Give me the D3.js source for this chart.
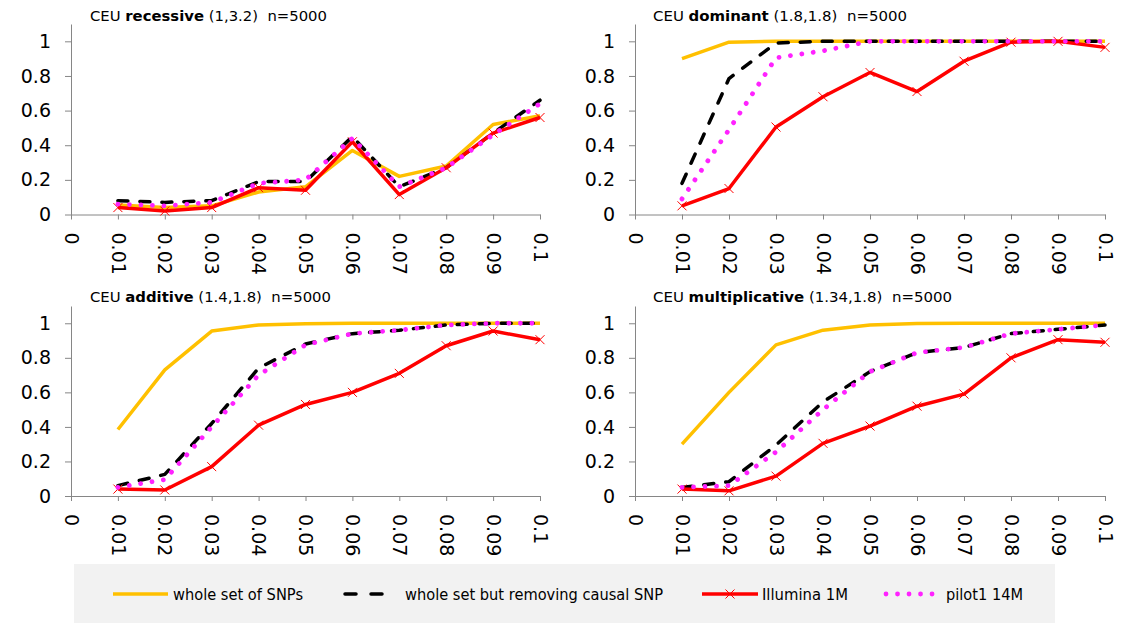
<!DOCTYPE html>
<html>
<head>
<meta charset="utf-8">
<script src="https://cdn.jsdelivr.net/npm/d3@7"></script>
<style>
    body { margin: 0; background: #fff; }
    text { font-family: "DejaVu Sans", Verdana, sans-serif; }
</style>
</head>
<body>
<svg id="svg_chart" width="1126" height="626"></svg>
<script>

// Data
const freqs = [0.01, 0.02, 0.03, 0.04, 0.05, 0.06, 0.07, 0.08, 0.09, 0.1];
const x_tick_values = [0, 0.01, 0.02, 0.03, 0.04, 0.05, 0.06, 0.07, 0.08, 0.09, 0.1],
    x_tick_labels = ["0", "0.01", "0.02", "0.03", "0.04", "0.05", "0.06", "0.07", "0.08", "0.09", "0.1"];
const y_tick_values = [0, 0.2, 0.4, 0.6, 0.8, 1],
    y_tick_labels = ["0", "0.2", "0.4", "0.6", "0.8", "1"];

const series_names = ["whole set of SNPs", "whole set but removing causal SNP", "Illumina 1M", "pilot1 14M"];

const recessive_whole = [0.055, 0.04, 0.05, 0.13, 0.16, 0.37, 0.22, 0.28, 0.52, 0.57],
    recessive_no_causal = [0.08, 0.07, 0.08, 0.19, 0.19, 0.45, 0.16, 0.27, 0.47, 0.66],
    recessive_illumina = [0.04, 0.02, 0.04, 0.155, 0.14, 0.42, 0.115, 0.27, 0.47, 0.56],
    recessive_pilot1 = [0.06, 0.05, 0.07, 0.18, 0.20, 0.44, 0.16, 0.27, 0.46, 0.64];

const dominant_whole = [0.90, 0.995, 1, 1, 1, 1, 1, 1, 1, 1],
    dominant_no_causal = [0.18, 0.785, 0.99, 1, 1, 1, 1, 1, 1, 1],
    dominant_illumina = [0.05, 0.15, 0.505, 0.68, 0.82, 0.71, 0.885, 0.995, 1, 0.965],
    dominant_pilot1 = [0.09, 0.49, 0.905, 0.945, 1, 1, 1, 1, 1, 1];

const additive_whole = [0.385, 0.73, 0.955, 0.99, 0.997, 1, 1, 1, 1, 1],
    additive_no_causal = [0.06, 0.125, 0.42, 0.74, 0.88, 0.94, 0.96, 0.99, 1, 1],
    additive_illumina = [0.04, 0.035, 0.17, 0.41, 0.53, 0.60, 0.71, 0.87, 0.955, 0.905],
    additive_pilot1 = [0.05, 0.095, 0.40, 0.70, 0.875, 0.94, 0.96, 0.99, 1, 1];

const multiplicative_whole = [0.30, 0.60, 0.875, 0.96, 0.99, 0.998, 1, 1, 1, 1],
    multiplicative_no_causal = [0.05, 0.083, 0.295, 0.545, 0.72, 0.83, 0.86, 0.94, 0.965, 0.99],
    multiplicative_illumina = [0.04, 0.03, 0.115, 0.305, 0.405, 0.52, 0.59, 0.80, 0.905, 0.89],
    multiplicative_pilot1 = [0.05, 0.06, 0.255, 0.50, 0.72, 0.83, 0.86, 0.94, 0.965, 0.99];

// Panel titles: [plain, bold, plain]
const panel_titles = [
    ["CEU ", "recessive", " (1,3.2)  n=5000"],
    ["CEU ", "dominant", " (1.8,1.8)  n=5000"],
    ["CEU ", "additive", " (1.4,1.8)  n=5000"],
    ["CEU ", "multiplicative", " (1.34,1.8)  n=5000"]
];

const panel_series = [
    [recessive_whole, recessive_no_causal, recessive_illumina, recessive_pilot1],
    [dominant_whole, dominant_no_causal, dominant_illumina, dominant_pilot1],
    [additive_whole, additive_no_causal, additive_illumina, additive_pilot1],
    [multiplicative_whole, multiplicative_no_causal, multiplicative_illumina, multiplicative_pilot1]
];


// Layout
const panel_layout = [
    {left: 71, right: 540, top: 24, bottom: 214.5, title_x: 90, title_y: 20.5, title_w: 237},
    {left: 635, right: 1105, top: 24, bottom: 214.5, title_x: 653, title_y: 20.5, title_w: 254},
    {left: 71, right: 540, top: 306, bottom: 496, title_x: 90, title_y: 301.5, title_w: 241},
    {left: 635, right: 1105, top: 306, bottom: 496, title_x: 653, title_y: 301.5, title_w: 299}
];

// Colors and line styles
const axis_gray = "#868686";
const series_style = [
    {stroke: "#FFC000", width: 3.5, dash: null, cap: "butt", marker: false},
    {stroke: "#000000", width: 3.5, dash: "10,12", cap: "round", marker: false},
    {stroke: "#FF0000", width: 3.5, dash: null, cap: "butt", marker: true},
    {stroke: "#FF22FF", width: 4.8, dash: "0.01,11.5", cap: "round", marker: false}
];

const tick_font = "19px";

const svg = d3.select("#svg_chart");

svg.append("rect").attr("width", 1126).attr("height", 626).attr("fill", "#fff");

function x_marker(g, cx, cy, s, color) {
    g.append("path")
        .attr("d", `M${cx - s},${cy - s}L${cx + s},${cy + s}M${cx - s},${cy + s}L${cx + s},${cy - s}`)
        .attr("stroke", color)
        .attr("stroke-width", 1)
        .attr("fill", "none");
}

panel_layout.forEach((p, pi) => {

    const x_scale = d3.scaleLinear().domain([0, 0.1]).range([p.left, p.right]);
    const y_scale = d3.scaleLinear().domain([0, 1.1]).range([p.bottom, p.top]);

    const panel = svg.append("g").attr("class", "panel");

    // y axis
    const y_axis = d3.axisLeft(y_scale)
        .tickValues(y_tick_values)
        .tickFormat((d, i) => y_tick_labels[i])
        .tickSize(6)
        .tickSizeOuter(0)
        .tickPadding(14);

    const gy = panel.append("g")
        .attr("transform", `translate(${p.left},0)`)
        .call(y_axis);
    gy.select(".domain").attr("stroke", axis_gray);
    gy.selectAll(".tick line").attr("stroke", axis_gray);
    gy.selectAll(".tick text")
        .attr("fill", "#000")
        .style("font-size", tick_font)
        .style("font-family", "'DejaVu Sans', Verdana, sans-serif");

    // x axis
    const x_axis = d3.axisBottom(x_scale)
        .tickValues(x_tick_values)
        .tickFormat((d, i) => x_tick_labels[i])
        .tickSize(5)
        .tickSizeOuter(0);

    const gx = panel.append("g")
        .attr("transform", `translate(0,${p.bottom})`)
        .call(x_axis);
    gx.select(".domain").attr("stroke", axis_gray);
    gx.selectAll(".tick line").attr("stroke", axis_gray);
    gx.selectAll(".tick text")
        .attr("fill", "#000")
        .attr("transform", "rotate(90)")
        .attr("x", 18)
        .attr("y", 0)
        .attr("dy", "0.36em")
        .style("text-anchor", "start")
        .style("font-size", tick_font)
        .style("font-family", "'DejaVu Sans', Verdana, sans-serif");

    // title
    const t = panel_titles[pi];
    const title = panel.append("text")
        .attr("x", p.title_x)
        .attr("y", p.title_y)
        .attr("textLength", p.title_w)
        .attr("lengthAdjust", "spacingAndGlyphs")
        .style("font-size", "14.5px")
        .style("white-space", "pre")
        .attr("fill", "#000");
    title.append("tspan").text(t[0]);
    title.append("tspan").attr("font-weight", "bold").text(t[1]);
    title.append("tspan").text(t[2]);

    // series lines
    const line = d3.line()
        .x((d, i) => x_scale(freqs[i]))
        .y(d => y_scale(d));

    panel_series[pi].forEach((vals, si) => {
        const st = series_style[si];
        panel.append("path")
            .datum(vals)
            .attr("d", line)
            .attr("fill", "none")
            .attr("stroke", st.stroke)
            .attr("stroke-width", st.width)
            .attr("stroke-linecap", st.cap)
            .attr("stroke-linejoin", "round")
            .attr("stroke-dasharray", st.dash);

        if (st.marker) {
            const mg = panel.append("g").attr("class", "markers");
            vals.forEach((v, i) => x_marker(mg, x_scale(freqs[i]), y_scale(v), 4.5, st.stroke));
        }
    });
});


// Legend
const legend = svg.append("g").attr("class", "legend");

legend.append("rect")
    .attr("x", 74).attr("y", 564)
    .attr("width", 981).attr("height", 59)
    .attr("fill", "#F2F2F2");

const legend_items = [
    {x0: 113, x1: 168, tx: 173, tw: 130},
    {x0: 345, x1: 385, tx: 405, tw: 258, dash: "11,15"},
    {x0: 702, x1: 758, tx: 762, tw: 86},
    {x0: 886, x1: 942, tx: 946, tw: 77}
];

const legend_y = 594;

legend_items.forEach((it, i) => {
    const st = series_style[i];
    legend.append("path")
        .attr("d", `M${it.x0},${legend_y}L${it.x1},${legend_y}`)
        .attr("stroke", st.stroke)
        .attr("stroke-width", st.width)
        .attr("stroke-linecap", st.cap)
        .attr("stroke-dasharray", it.dash || st.dash)
        .attr("fill", "none");
    if (st.marker) x_marker(legend, (it.x0 + it.x1) / 2, legend_y, 4.5, st.stroke);

    legend.append("text")
        .attr("x", it.tx)
        .attr("y", legend_y + 6)
        .attr("textLength", it.tw)
        .attr("lengthAdjust", "spacingAndGlyphs")
        .style("font-size", "16.5px")
        .attr("fill", "#000")
        .text(series_names[i]);
});

</script>
</body>
</html>
